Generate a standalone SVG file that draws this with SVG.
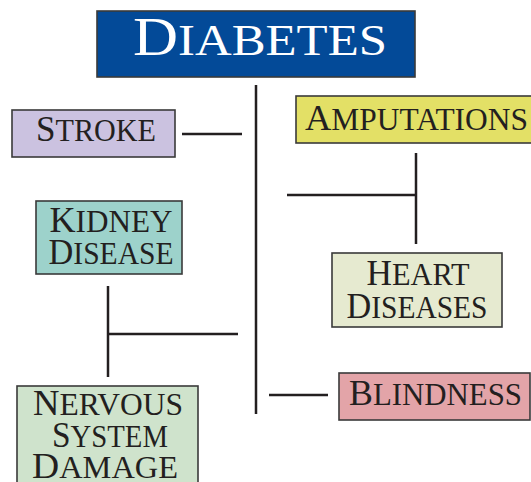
<svg xmlns="http://www.w3.org/2000/svg" width="531" height="482" viewBox="0 0 531 482">
<style>
.box{stroke:#3a3a3a;stroke-width:1.6}
.t{font-family:"Liberation Serif","Times New Roman",serif;fill:#231f20}
.b{font-size:36px}
.s{font-size:31px}
.ln{stroke:#231f20;stroke-width:2.5;fill:none}
</style>
<rect width="531" height="482" fill="#ffffff"/>
<g id="connectors">
<line class="ln" x1="256" y1="85" x2="256" y2="414"/>
<line class="ln" x1="182" y1="134" x2="242" y2="134"/>
<line class="ln" x1="108" y1="286" x2="108" y2="377"/>
<line class="ln" x1="108" y1="334" x2="238" y2="334"/>
<line class="ln" x1="416" y1="153" x2="416" y2="244"/>
<line class="ln" x1="287" y1="195" x2="416" y2="195"/>
<line class="ln" x1="269" y1="395" x2="328" y2="395"/>
</g>
<g id="diabetes">
<rect class="box" x="97" y="11" width="318" height="66" fill="#034a98"/>
<text class="t" x="260" y="55" text-anchor="middle" textLength="254" lengthAdjust="spacingAndGlyphs" style="fill:#ffffff"><tspan font-size="54">D</tspan><tspan font-size="44">IABETES</tspan></text>
</g>
<g id="stroke">
<rect class="box" x="12" y="110" width="163" height="47" fill="#cbc2e0"/>
<text class="t" x="96" y="141" text-anchor="middle" textLength="120" lengthAdjust="spacingAndGlyphs"><tspan class="b">S</tspan><tspan class="s">TROKE</tspan></text>
</g>
<g id="kidney">
<rect class="box" x="36" y="201" width="146" height="73" fill="#9dd2cb"/>
<text class="t" x="111" y="232" text-anchor="middle" textLength="123" lengthAdjust="spacingAndGlyphs"><tspan class="b">K</tspan><tspan class="s">IDNEY</tspan></text>
<text class="t" x="111" y="264" text-anchor="middle" textLength="125" lengthAdjust="spacingAndGlyphs"><tspan class="b">D</tspan><tspan class="s">ISEASE</tspan></text>
</g>
<g id="nervous">
<rect class="box" x="17" y="386" width="181" height="104" fill="#cfe3cc"/>
<text class="t" x="108" y="415" text-anchor="middle" textLength="150" lengthAdjust="spacingAndGlyphs"><tspan class="b">N</tspan><tspan class="s">ERVOUS</tspan></text>
<text class="t" x="110" y="447" text-anchor="middle" textLength="116" lengthAdjust="spacingAndGlyphs"><tspan class="b">S</tspan><tspan class="s">YSTEM</tspan></text>
<text class="t" x="105" y="478" text-anchor="middle" textLength="146" lengthAdjust="spacingAndGlyphs"><tspan class="b">D</tspan><tspan class="s">AMAGE</tspan></text>
</g>
<g id="amputations">
<rect class="box" x="296" y="96" width="245" height="47" fill="#e3e066"/>
<text class="t" x="305" y="130" textLength="223" lengthAdjust="spacingAndGlyphs"><tspan class="b">A</tspan><tspan class="s">MPUTATIONS</tspan></text>
</g>
<g id="heart">
<rect class="box" x="332" y="253" width="170" height="74" fill="#e6ead0"/>
<text class="t" x="418" y="285" text-anchor="middle" textLength="103" lengthAdjust="spacingAndGlyphs"><tspan class="b">H</tspan><tspan class="s">EART</tspan></text>
<text class="t" x="417" y="318" text-anchor="middle" textLength="141" lengthAdjust="spacingAndGlyphs"><tspan class="b">D</tspan><tspan class="s">ISEASES</tspan></text>
</g>
<g id="blindness">
<rect class="box" x="339" y="373" width="191" height="47" fill="#e3a4a8"/>
<text class="t" x="349" y="405" textLength="173" lengthAdjust="spacingAndGlyphs"><tspan class="b">B</tspan><tspan class="s">LINDNESS</tspan></text>
</g>
</svg>
